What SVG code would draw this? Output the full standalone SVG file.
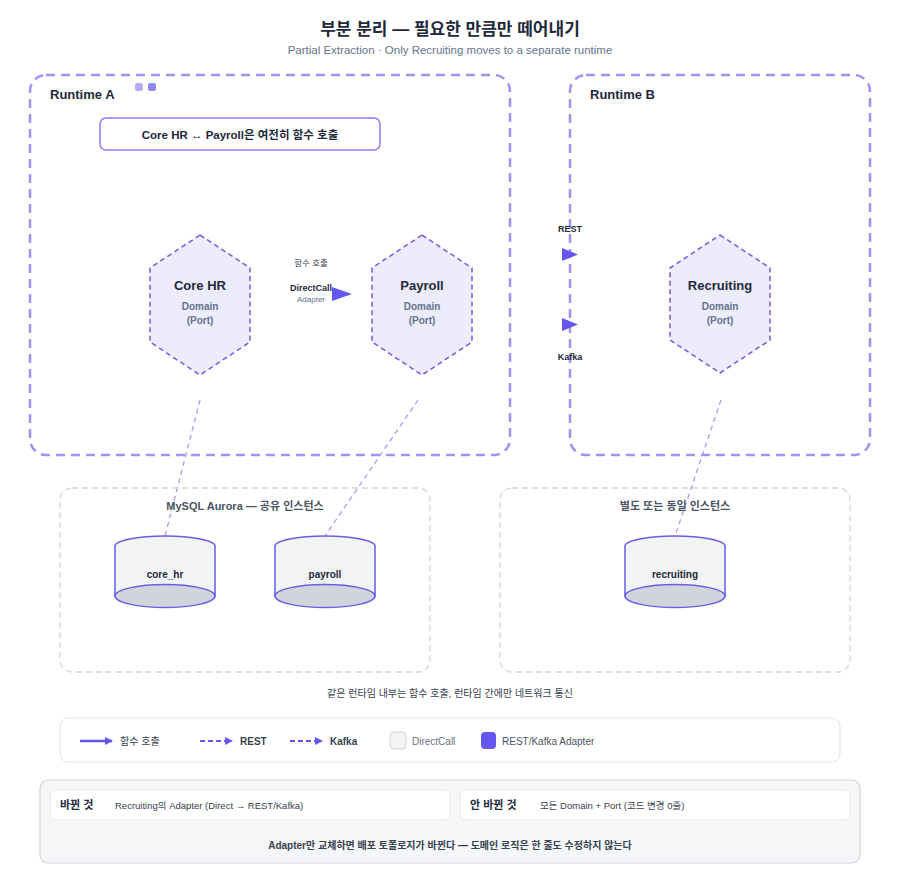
<svg xmlns="http://www.w3.org/2000/svg" width="900" height="880" viewBox="0 0 900 880">
<defs>
<style>
text{font-family:"Liberation Sans","Noto Sans CJK KR",sans-serif;}
.t{font-size:17px;font-weight:bold;fill:#1e293b;}
.sub{font-size:11.5px;fill:#64748b;}
.rt{fill:none;stroke:#a193f3;stroke-width:2.5;stroke-dasharray:9 6;}
.rtl{font-size:13px;font-weight:bold;fill:#1e293b;}
.hex{fill:#ececfd;stroke:#7a5ae3;stroke-width:1.5;stroke-dasharray:5 3.5;}
.hn{font-size:13px;font-weight:bold;fill:#1e293b;text-anchor:middle;}
.hs{font-size:10px;font-weight:bold;fill:#64748b;text-anchor:middle;}
.lk{fill:none;stroke:#a99ef2;stroke-width:1.3;stroke-dasharray:5 4;}
.dbb{fill:none;stroke:#d4d4d8;stroke-width:1.3;stroke-dasharray:6 4;}
.dbt{font-size:11px;font-weight:bold;fill:#4b5563;text-anchor:middle;}
.cyl{fill:#f3f4f6;stroke:#6b5ce8;stroke-width:1.5;}
.cylb{fill:#d1d5db;stroke:#6b5ce8;stroke-width:1.5;}
.cn{font-size:10px;font-weight:bold;fill:#1e293b;text-anchor:middle;}
.ah{fill:#6457f0;}
.sm{font-size:9px;font-weight:bold;fill:#1e293b;text-anchor:middle;}
.lg{font-size:10px;fill:#374151;}
</style>
<marker id="arr" markerWidth="8" markerHeight="8" refX="7" refY="4" orient="auto" markerUnits="userSpaceOnUse">
<path d="M0,0 L8,4 L0,8 Z" fill="#6457f0"/>
</marker>
</defs>
<rect width="900" height="880" fill="#ffffff"/>
<text class="t" x="450" y="35" text-anchor="middle">부분 분리 — 필요한 만큼만 떼어내기</text>
<text class="sub" x="450" y="54" text-anchor="middle">Partial Extraction · Only Recruiting moves to a separate runtime</text>

<g id="runtime-a">
<rect class="rt" x="30" y="75" width="480" height="380" rx="16"/>
<text class="rtl" x="50" y="99">Runtime A</text>
<rect x="135" y="83" width="8" height="8" rx="2.5" fill="#b3abf8"/>
<rect x="148" y="83" width="8" height="8" rx="2.5" fill="#8d86f4"/>
</g>
<g id="runtime-b">
<rect class="rt" x="570" y="75" width="300" height="380" rx="16"/>
<text class="rtl" x="590" y="99">Runtime B</text>
</g>

<g id="note">
<rect x="100" y="118" width="280" height="32" rx="6" fill="#ffffff" stroke="#8b7cf0" stroke-width="1.5"/>
<text x="240" y="139" text-anchor="middle" style="font-size:11.5px;font-weight:bold;fill:#1e293b">Core HR ↔ Payroll은 여전히 함수 호출</text>
</g>

<g id="connectors">
<line class="lk" x1="200" y1="400" x2="165" y2="536"/>
<line class="lk" x1="418" y1="400" x2="325" y2="536"/>
<line class="lk" x1="721" y1="400" x2="675" y2="536"/>
<polygon class="ah" points="332,287 352,294 332,301"/>
<text x="311" y="266" text-anchor="middle" style="font-size:8.5px;fill:#374151">함수 호출</text>
<text class="sm" x="311" y="291">DirectCall</text>
<text x="311" y="302" text-anchor="middle" style="font-size:8px;fill:#64748b">Adapter</text>
<polygon class="ah" points="562,248 578,254.5 562,261"/>
<polygon class="ah" points="562,318 578,324.5 562,331"/>
<text class="sm" x="570" y="232">REST</text>
<text class="sm" x="570" y="360">Kafka</text>
</g>

<g id="core-hr">
<polygon class="hex" points="200,235 250,268 250,342 200,375 150,342 150,268"/>
<text class="hn" x="200" y="290">Core HR</text>
<text class="hs" x="200" y="310">Domain</text>
<text class="hs" x="200" y="324">(Port)</text>
</g>
<g id="payroll">
<polygon class="hex" points="422,235 472,268 472,342 422,375 372,342 372,268"/>
<text class="hn" x="422" y="290">Payroll</text>
<text class="hs" x="422" y="310">Domain</text>
<text class="hs" x="422" y="324">(Port)</text>
</g>
<g id="recruiting">
<polygon class="hex" points="720,235 770,268 770,340 720,373 670,340 670,268"/>
<text class="hn" x="720" y="290">Recruiting</text>
<text class="hs" x="720" y="310">Domain</text>
<text class="hs" x="720" y="324">(Port)</text>
</g>

<g id="db-shared">
<rect class="dbb" x="60" y="488" width="370" height="184" rx="12"/>
<text class="dbt" x="245" y="510">MySQL Aurora — 공유 인스턴스</text>
</g>
<g id="db-separate">
<rect class="dbb" x="500" y="488" width="350" height="184" rx="12"/>
<text class="dbt" x="675" y="510">별도 또는 동일 인스턴스</text>
</g>

<g id="db-core-hr">
<path class="cyl" d="M115,546 A50,10 0 0 1 215,546 L215,596 L115,596 Z"/>
<ellipse class="cylb" cx="165" cy="596" rx="50" ry="11.5"/>
<text class="cn" x="165" y="578">core_hr</text>
</g>
<g id="db-payroll">
<path class="cyl" d="M275,546 A50,10 0 0 1 375,546 L375,596 L275,596 Z"/>
<ellipse class="cylb" cx="325" cy="596" rx="50" ry="11.5"/>
<text class="cn" x="325" y="578">payroll</text>
</g>
<g id="db-recruiting">
<path class="cyl" d="M625,546 A50,10 0 0 1 725,546 L725,596 L625,596 Z"/>
<ellipse class="cylb" cx="675" cy="596" rx="50" ry="11.5"/>
<text class="cn" x="675" y="578">recruiting</text>
</g>

<text x="450" y="697" text-anchor="middle" style="font-size:10px;fill:#374151">같은 런타임 내부는 함수 호출, 런타임 간에만 네트워크 통신</text>

<g id="legend">
<rect x="60" y="718" width="780" height="44" rx="8" fill="#ffffff" stroke="#e5e7eb" stroke-width="1.2"/>
<line x1="80" y1="741" x2="112" y2="741" stroke="#6457f0" stroke-width="2.5" marker-end="url(#arr)"/>
<text class="lg" x="120" y="745">함수 호출</text>
<line x1="200" y1="741" x2="232" y2="741" stroke="#6457f0" stroke-width="2" stroke-dasharray="5 3" marker-end="url(#arr)"/>
<text class="lg" x="240" y="745" style="font-weight:bold">REST</text>
<line x1="290" y1="741" x2="322" y2="741" stroke="#6457f0" stroke-width="2" stroke-dasharray="5 3" marker-end="url(#arr)"/>
<text class="lg" x="330" y="745" style="font-weight:bold">Kafka</text>
<rect x="390" y="732" width="16" height="17" rx="4" fill="#f3f4f6" stroke="#d1d5db"/>
<text class="lg" x="412" y="745" style="fill:#6b7280">DirectCall</text>
<rect x="481" y="732" width="15" height="17" rx="4" fill="#6457f0"/>
<text class="lg" x="502" y="745" style="fill:#4b5563">REST/Kafka Adapter</text>
</g>

<g id="summary">
<rect x="40" y="780" width="820" height="83" rx="8" fill="#f5f6f8" stroke="#d1d5db" stroke-width="1.2"/>
<rect x="50" y="790" width="400" height="30" rx="6" fill="#ffffff" stroke="#e5e7eb"/>
<rect x="460" y="790" width="390" height="30" rx="6" fill="#ffffff" stroke="#e5e7eb"/>
<text x="60" y="809" style="font-size:11px;font-weight:bold;fill:#1e293b">바뀐 것</text>
<text x="115" y="809" style="font-size:9.5px;fill:#374151">Recruiting의 Adapter (Direct → REST/Kafka)</text>
<text x="470" y="809" style="font-size:11px;font-weight:bold;fill:#1e293b">안 바뀐 것</text>
<text x="540" y="809" style="font-size:9.5px;fill:#374151">모든 Domain + Port (코드 변경 0줄)</text>
<text x="450" y="849" text-anchor="middle" style="font-size:10px;font-weight:bold;fill:#374151">Adapter만 교체하면 배포 토폴로지가 바뀐다 — 도메인 로직은 한 줄도 수정하지 않는다</text>
</g>
</svg>
